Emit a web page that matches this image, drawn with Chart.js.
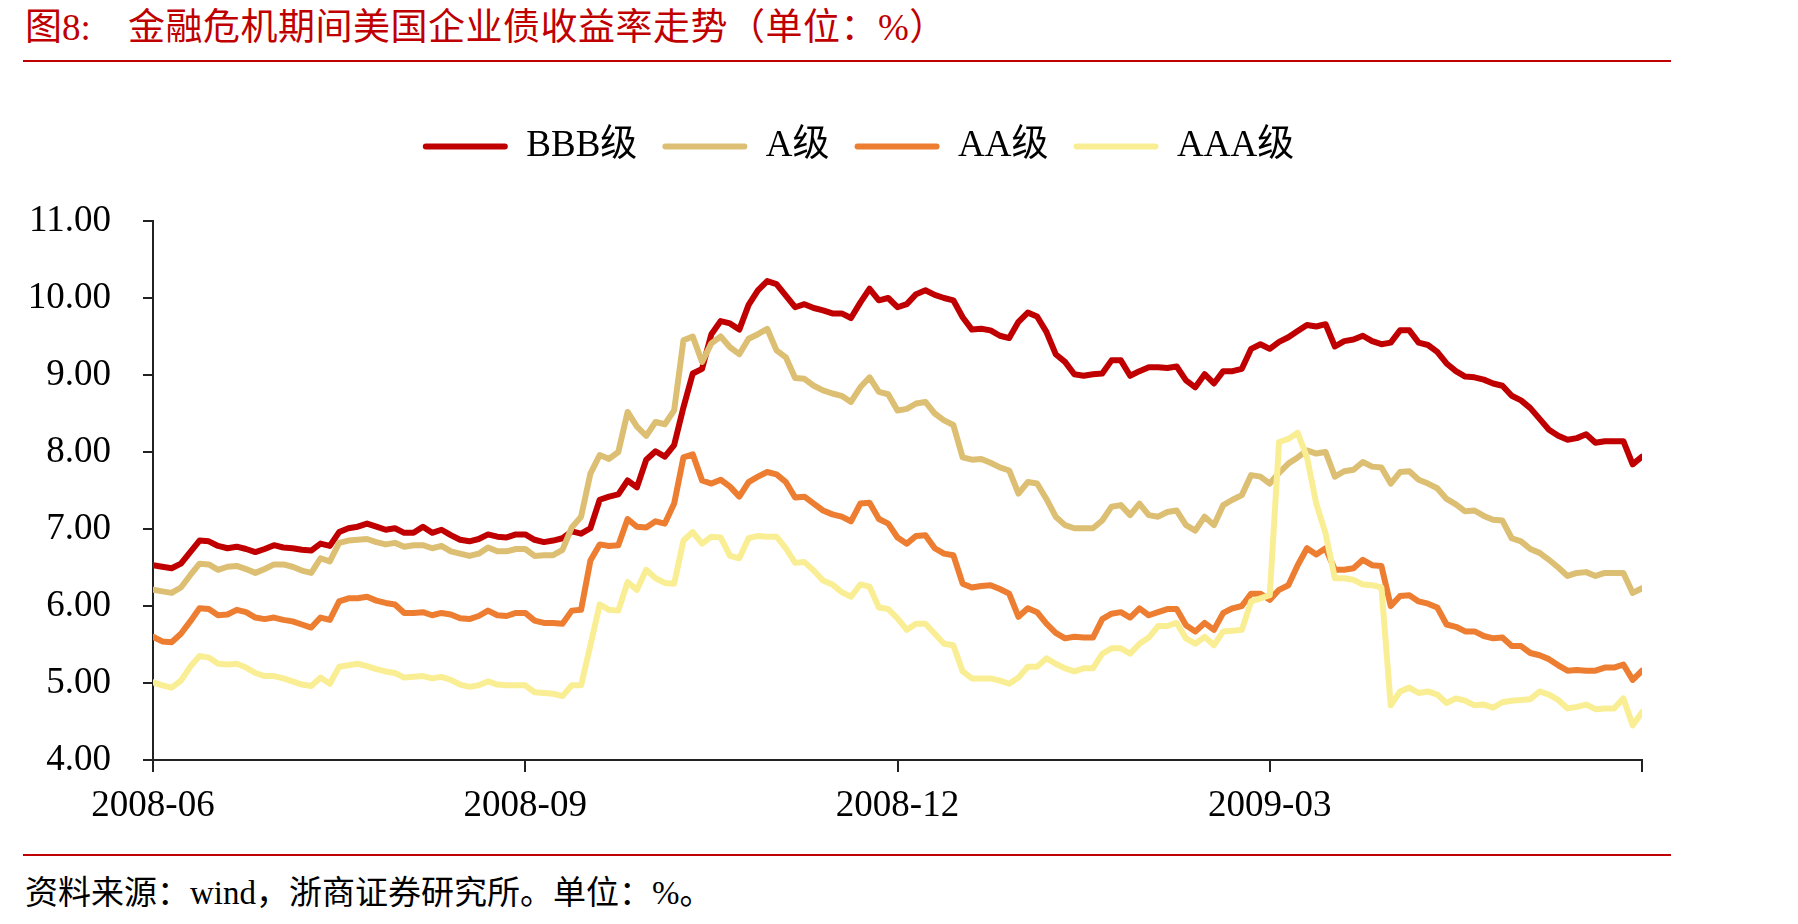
<!DOCTYPE html>
<html>
<head>
<meta charset="utf-8">
<script src="https://cdn.jsdelivr.net/npm/chart.js@4.4.1/dist/chart.umd.min.js"></script>
<style>
  html, body { margin: 0; padding: 0; background: #ffffff; }
  body { width: 1798px; height: 924px; position: relative; overflow: hidden; }
  #title { position: absolute; left: 25px; top: 8px; font-size: 37px; line-height: 40px; color: #C00000;
           font-family: 'Liberation Serif', 'Noto Sans CJK SC'; white-space: pre; }
  #title .main { position: absolute; left: 103px; top: 0; letter-spacing: 0.5px; }
  .rule { position: absolute; left: 23px; width: 1648px; height: 2px; background: #C00000; }
  #footer { position: absolute; left: 25px; top: 875px; font-size: 33px; line-height: 36px; color: #000;
            font-family: 'Liberation Serif', 'Noto Sans CJK SC'; white-space: pre; }
  #wrap { position: absolute; left: 0; top: 80px; width: 1798px; height: 760px; }
</style>
</head>
<body>
<div id="title">图8:<span class="main">金融危机期间美国企业债收益率走势（单位：%）</span></div>
<div class="rule" style="top:60px"></div>
<div id="wrap"><canvas id="c" width="1798" height="760"></canvas></div>
<div class="rule" style="top:854px"></div>
<div id="footer">资料来源：wind，浙商证券研究所。单位：%。</div>
<script>
// ---- data (one point per sampling step along the time axis) ----
const seriesNames = ['BBB级', 'A级', 'AA级', 'AAA级'];
const tickPositions = [0, 40, 80, 120, 160];
const tickLabels = ['2008-06', '2008-09', '2008-12', '2009-03', ''];

const bbb = [6.53,6.51,6.49,6.55,6.70,6.85,6.84,6.78,6.75,6.77,6.74,6.70,6.74,6.79,6.76,6.75,6.73,6.72,6.81,6.78,
6.96,7.01,7.03,7.07,7.03,6.99,7.01,6.95,6.95,7.03,6.95,6.99,6.92,6.86,6.84,6.87,6.93,6.90,6.89,6.93,
6.93,6.86,6.83,6.85,6.88,6.97,6.94,7.01,7.38,7.42,7.45,7.63,7.54,7.90,8.01,7.94,8.09,8.58,9.02,9.08,
9.53,9.70,9.67,9.59,9.91,10.10,10.22,10.18,10.03,9.88,9.92,9.87,9.84,9.80,9.80,9.74,9.94,10.12,9.97,10.00,
9.88,9.92,10.05,10.10,10.04,10.00,9.97,9.75,9.59,9.60,9.58,9.51,9.48,9.69,9.81,9.76,9.56,9.27,9.17,9.01,
8.99,9.01,9.02,9.19,9.19,8.99,9.05,9.10,9.10,9.09,9.11,8.93,8.84,9.01,8.89,9.05,9.05,9.08,9.34,9.40,
9.34,9.43,9.49,9.57,9.65,9.63,9.66,9.37,9.44,9.46,9.51,9.44,9.40,9.42,9.58,9.58,9.42,9.39,9.30,9.15,
9.05,8.98,8.97,8.94,8.89,8.86,8.73,8.67,8.57,8.43,8.29,8.21,8.16,8.18,8.23,8.12,8.14,8.14,8.14,7.84,
7.94];

const gradeA = [6.21,6.19,6.17,6.24,6.40,6.55,6.54,6.47,6.51,6.52,6.48,6.43,6.48,6.54,6.54,6.51,6.46,6.43,6.62,6.58,
6.82,6.85,6.86,6.87,6.83,6.80,6.82,6.77,6.79,6.79,6.75,6.78,6.71,6.68,6.65,6.68,6.76,6.71,6.71,6.74,
6.74,6.65,6.66,6.66,6.73,7.02,7.16,7.72,7.96,7.91,8.00,8.52,8.33,8.21,8.39,8.36,8.54,9.45,9.50,9.17,
9.41,9.50,9.36,9.27,9.47,9.53,9.60,9.32,9.23,8.96,8.95,8.86,8.80,8.76,8.73,8.65,8.84,8.97,8.78,8.75,
8.54,8.56,8.63,8.65,8.50,8.41,8.35,7.93,7.90,7.91,7.86,7.80,7.76,7.46,7.61,7.59,7.39,7.16,7.05,7.01,
7.01,7.01,7.11,7.29,7.31,7.18,7.33,7.18,7.16,7.22,7.24,7.05,6.98,7.16,7.05,7.31,7.38,7.44,7.70,7.68,
7.59,7.73,7.85,7.93,8.02,7.98,8.00,7.68,7.75,7.77,7.87,7.81,7.80,7.59,7.74,7.75,7.64,7.59,7.53,7.39,
7.32,7.23,7.24,7.17,7.12,7.11,6.88,6.84,6.74,6.69,6.60,6.50,6.39,6.43,6.44,6.39,6.43,6.43,6.43,6.17,
6.23];

const gradeAA = [5.60,5.54,5.53,5.64,5.80,5.97,5.96,5.88,5.89,5.95,5.92,5.85,5.83,5.85,5.82,5.80,5.76,5.72,5.85,5.82,
6.06,6.10,6.10,6.12,6.07,6.04,6.02,5.91,5.91,5.92,5.88,5.91,5.89,5.84,5.83,5.87,5.94,5.88,5.87,5.91,
5.91,5.81,5.78,5.78,5.77,5.94,5.95,6.59,6.80,6.78,6.79,7.13,7.03,7.02,7.10,7.07,7.33,7.93,7.97,7.63,
7.59,7.64,7.55,7.42,7.61,7.68,7.74,7.71,7.61,7.41,7.42,7.33,7.24,7.19,7.16,7.10,7.33,7.34,7.13,7.07,
6.89,6.81,6.91,6.92,6.75,6.68,6.66,6.29,6.24,6.26,6.27,6.22,6.16,5.86,5.97,5.92,5.77,5.65,5.58,5.60,
5.59,5.59,5.83,5.90,5.92,5.85,5.97,5.88,5.92,5.96,5.96,5.75,5.67,5.78,5.69,5.91,5.97,6.00,6.16,6.16,
6.08,6.21,6.27,6.53,6.75,6.67,6.75,6.47,6.47,6.49,6.60,6.53,6.52,6.00,6.13,6.14,6.06,6.03,5.98,5.76,
5.73,5.67,5.67,5.61,5.58,5.59,5.48,5.48,5.39,5.36,5.31,5.23,5.16,5.17,5.16,5.16,5.20,5.20,5.24,5.04,
5.16];

const gradeAAA = [5.01,4.97,4.94,5.03,5.21,5.35,5.33,5.25,5.24,5.25,5.20,5.13,5.09,5.09,5.06,5.02,4.98,4.96,5.07,4.99,
5.21,5.23,5.25,5.22,5.18,5.15,5.13,5.07,5.08,5.09,5.06,5.08,5.04,4.98,4.95,4.97,5.02,4.98,4.97,4.97,
4.97,4.88,4.87,4.86,4.83,4.97,4.97,5.49,6.02,5.95,5.94,6.31,6.21,6.47,6.36,6.30,6.29,6.85,6.96,6.81,
6.90,6.89,6.65,6.62,6.88,6.91,6.90,6.90,6.75,6.56,6.57,6.46,6.33,6.28,6.18,6.12,6.28,6.25,5.98,5.96,
5.84,5.69,5.77,5.77,5.64,5.51,5.49,5.15,5.06,5.06,5.06,5.03,4.99,5.07,5.21,5.21,5.32,5.25,5.19,5.15,
5.19,5.19,5.38,5.45,5.45,5.38,5.51,5.59,5.74,5.74,5.78,5.58,5.51,5.60,5.49,5.67,5.68,5.69,6.06,6.10,
6.14,8.13,8.17,8.25,7.93,7.33,6.94,6.36,6.36,6.34,6.28,6.27,6.24,4.71,4.89,4.94,4.87,4.89,4.85,4.74,
4.80,4.77,4.71,4.72,4.68,4.75,4.77,4.78,4.79,4.89,4.85,4.78,4.67,4.69,4.72,4.66,4.67,4.67,4.80,4.45,
4.62];

const seriesValues = [bbb, gradeA, gradeAA, gradeAAA];
const seriesColors = ['#C00000', '#DCBF72', '#ED7D31', '#FAEE94'];
const drawOrder = [4, 3, 2, 1];   // later series painted on top

const serif = "'Liberation Serif', 'Noto Sans CJK SC'";

const datasets = seriesNames.map((name, k) => ({
  label: name,
  data: seriesValues[k].map((v, i) => ({ x: i, y: v })),
  borderColor: seriesColors[k],
  backgroundColor: seriesColors[k],
  borderWidth: 6,
  pointRadius: 0,
  tension: 0,
  borderJoinStyle: 'round',
  borderCapStyle: 'round',
  order: drawOrder[k]
}));

// nudge the legend row so it sits where the reference places it
const legendShift = {
  id: 'legendShift',
  afterLayout(chart) {
    if (chart.legend) { chart.legend.left += 37.5; chart.legend.right += 37.5; }
  }
};

new Chart(document.getElementById('c'), {
  type: 'line',
  data: { datasets },
  plugins: [legendShift],
  options: {
    responsive: false,
    animation: false,
    devicePixelRatio: 1,
    layout: { padding: { left: 0, right: 156, top: 23, bottom: 0 } },
    plugins: {
      tooltip: { enabled: false },
      legend: {
        display: true,
        position: 'top',
        labels: {
          color: '#000',
          font: { family: serif, size: 37 },
          boxWidth: 85,
          boxHeight: 6,
          padding: 25,
          useBorderRadius: true,
          borderRadius: 3,
          sort: (a, b) => a.datasetIndex - b.datasetIndex,
          generateLabels: (chart) => {
            const items = Chart.defaults.plugins.legend.labels.generateLabels(chart);
            items.forEach(it => { it.lineWidth = 0; it.strokeStyle = it.fillStyle; });
            return items;
          }
        }
      },
      subtitle: {
        display: true,
        text: '',
        position: 'top',
        weight: 900,
        font: { size: 10, lineHeight: 1 },
        padding: { top: 36, bottom: 0 }
      }
    },
    scales: {
      x: {
        type: 'linear',
        min: 0,
        max: tickPositions[tickPositions.length - 1],
        afterBuildTicks: (s) => { s.ticks = tickPositions.map(v => ({ value: v })); },
        afterFit: (s) => { s.height = 80; },
        ticks: {
          autoSkip: false,
          maxRotation: 0,
          padding: 12,
          color: '#000',
          font: { family: serif, size: 37 },
          callback: (v) => { const k = tickPositions.indexOf(v); return k >= 0 ? tickLabels[k] : ''; }
        },
        grid: { drawOnChartArea: false, drawTicks: true, tickLength: 12, color: '#222', lineWidth: 2 },
        border: { display: true, color: '#222', width: 2 }
      },
      y: {
        min: 4,
        max: 11,
        afterFit: (s) => { s.width = 153; },
        ticks: {
          stepSize: 1,
          padding: 32,
          color: '#000',
          font: { family: serif, size: 37 },
          callback: (v) => Number(v).toFixed(2)
        },
        grid: { drawOnChartArea: false, drawTicks: true, tickLength: 10, color: '#222', lineWidth: 2 },
        border: { display: true, color: '#222', width: 2 }
      }
    }
  }
});
</script>
</body>
</html>
